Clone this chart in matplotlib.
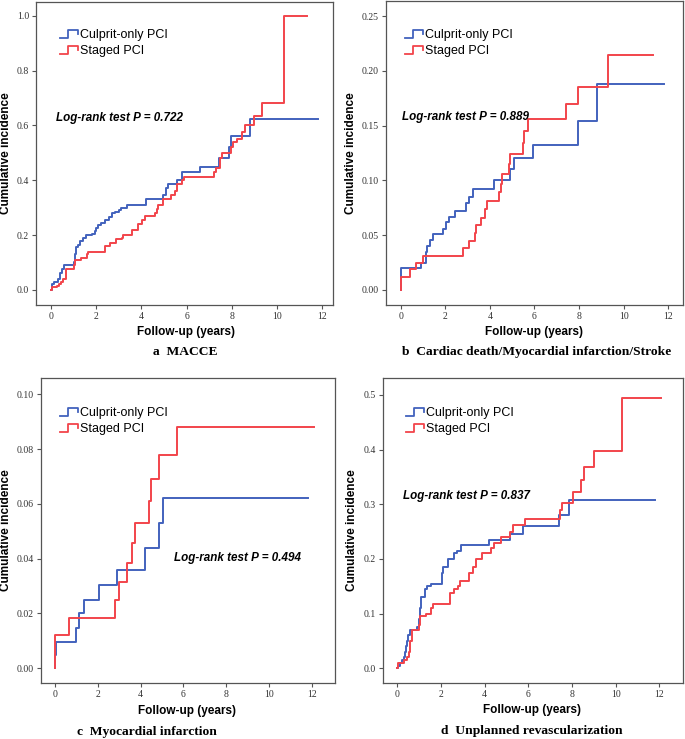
import numpy as np
import matplotlib.pyplot as plt
from matplotlib.lines import Line2D
from matplotlib.legend_handler import HandlerBase

# ---- data ----
# a  MACCE
a_cul_t = [0, 0.05, 0.15, 0.3, 0.4, 0.5, 0.6, 1.0, 1.05, 1.1, 1.2, 1.3, 1.4, 1.55, 1.8, 1.95, 2.0, 2.1, 2.2,
           2.4, 2.55, 2.7, 2.85, 3.0, 3.1, 3.35, 4.2, 4.95, 5.1, 5.2, 5.6, 5.8, 6.6, 7.45, 7.9, 7.95, 8.8, 11.8]
a_cul_y = [0, 0.02, 0.03, 0.04, 0.06, 0.075, 0.09, 0.10, 0.13, 0.155, 0.165, 0.18, 0.19, 0.20, 0.205, 0.215,
           0.225, 0.235, 0.245, 0.255, 0.265, 0.28, 0.285, 0.29, 0.30, 0.31, 0.33, 0.345, 0.37, 0.385, 0.40,
           0.43, 0.45, 0.48, 0.52, 0.56, 0.625, 0.625]
a_stg_t = [0, 0.05, 0.25, 0.35, 0.45, 0.55, 0.65, 1.0, 1.05, 1.35, 1.6, 1.65, 2.4, 2.6, 2.9, 3.15, 3.2, 3.6,
           3.85, 4.05, 4.15, 4.6, 4.7, 4.75, 4.95, 5.3, 5.5, 5.6, 5.8, 5.9, 7.2, 7.3, 7.5, 7.55, 7.95, 8.05,
           8.25, 8.45, 8.6, 9.0, 9.35, 10.3, 11.35]
a_stg_y = [0, 0.01, 0.015, 0.02, 0.03, 0.04, 0.075, 0.09, 0.11, 0.115, 0.13, 0.14, 0.16, 0.17, 0.185, 0.19,
           0.20, 0.22, 0.24, 0.255, 0.27, 0.28, 0.295, 0.31, 0.33, 0.345, 0.36, 0.385, 0.40, 0.41, 0.43,
           0.445, 0.48, 0.50, 0.52, 0.54, 0.55, 0.575, 0.60, 0.635, 0.68, 1.0, 1.0]

# b  Cardiac death/MI/Stroke
b_cul_t = [0, 0.02, 0.91, 1.14, 1.2, 1.32, 1.43, 1.9, 2.05, 2.15, 2.45, 2.95, 3.05, 3.25, 4.2, 4.9, 5.1,
           5.95, 7.95, 8.8, 11.8]
b_cul_y = [0, 0.02, 0.025, 0.035, 0.04, 0.046, 0.051, 0.056, 0.062, 0.067, 0.072, 0.079, 0.085, 0.092,
           0.10, 0.11, 0.12, 0.132, 0.154, 0.188, 0.188]
b_stg_t = [0, 0.03, 0.4, 0.7, 1.0, 2.8, 3.05, 3.35, 3.4, 3.6, 3.8, 3.85, 4.4, 4.5, 4.55, 4.85, 4.9, 5.5,
           5.55, 5.7, 7.4, 7.95, 9.3, 11.3]
b_stg_y = [0, 0.012, 0.019, 0.025, 0.031, 0.038, 0.045, 0.052, 0.059, 0.066, 0.074, 0.081, 0.089, 0.097,
           0.106, 0.115, 0.124, 0.134, 0.145, 0.156, 0.17, 0.185, 0.214, 0.214]

# c  Myocardial infarction
c_cul_t = [0, 0.02, 0.03, 1.0, 1.1, 1.35, 2.05, 2.9, 4.2, 4.85, 5.05, 11.8]
c_cul_y = [0, 0.005, 0.0097, 0.0146, 0.02, 0.025, 0.0305, 0.036, 0.044, 0.053, 0.062, 0.062]
c_stg_t = [0, 0.02, 0.65, 2.8, 3.0, 3.35, 3.6, 3.75, 4.4, 4.5, 4.85, 5.7, 12.1]
c_stg_y = [0, 0.0122, 0.0184, 0.025, 0.0315, 0.0385, 0.0457, 0.053, 0.061, 0.069, 0.078, 0.088, 0.088]

# d  Unplanned revascularization
d_cul_t = [0, 0.02, 0.1, 0.2, 0.3, 0.35, 0.4, 0.45, 0.5, 0.6, 0.9, 1.0, 1.05, 1.1, 1.25, 1.35, 1.55, 2.05,
           2.1, 2.3, 2.6, 2.75, 2.9, 4.2, 5.15, 5.75, 7.4, 7.85, 11.8]
d_cul_y = [0, 0.005, 0.01, 0.015, 0.02, 0.03, 0.04, 0.05, 0.06, 0.07, 0.075, 0.09, 0.11, 0.13, 0.145, 0.15,
           0.155, 0.175, 0.185, 0.20, 0.21, 0.215, 0.225, 0.235, 0.245, 0.26, 0.28, 0.308, 0.308]
d_stg_t = [0, 0.02, 0.3, 0.45, 0.55, 0.6, 0.65, 1.0, 1.05, 1.3, 1.55, 1.65, 2.4, 2.6, 2.8, 2.85, 3.3, 3.45,
           3.6, 3.9, 4.3, 4.45, 4.75, 5.15, 5.3, 5.85, 7.45, 7.55, 8.05, 8.4, 8.55, 9.0, 10.3, 12.1]
d_stg_y = [0, 0.01, 0.015, 0.02, 0.03, 0.05, 0.07, 0.08, 0.095, 0.10, 0.11, 0.118, 0.138, 0.145, 0.15, 0.16,
           0.175, 0.185, 0.20, 0.21, 0.22, 0.23, 0.24, 0.25, 0.262, 0.273, 0.29, 0.303, 0.322, 0.345, 0.368,
           0.398, 0.495, 0.495]

p_values = ['0.722', '0.889', '0.494', '0.837']
captions = [('a', 'MACCE'), ('b', 'Cardiac death/Myocardial infarction/Stroke'),
            ('c', 'Myocardial infarction'), ('d', 'Unplanned revascularization')]
groups = ['Culprit-only PCI', 'Staged PCI']

BLUE = '#4262bd'
RED = '#f2444b'
W, H = 685, 739


class StepHandler(HandlerBase):
    def create_artists(self, legend, orig, xd, yd, width, height, fontsize, trans):
        xs = np.array([0, 0.45, 0.45, 1.0, 1.0]) * width - xd
        ys = np.array([-0.05, -0.05, 0.95, 0.95, 0.4]) * height - yd
        ln = Line2D(xs, ys, color=orig.get_color(), lw=1.3)
        ln.set_transform(trans)
        return [ln]


def px_axes(l, r, t, b):
    return [l / W, 1 - b / H, (r - l) / W, (b - t) / H]


panels = [
    dict(box=(36, 333, 2, 305), xlim=(-0.66, 12.48), ylim=(-0.055, 1.05), yt=np.arange(0, 1.01, 0.2), fmt='%.1f',
         data=(a_cul_t, a_cul_y, a_stg_t, a_stg_y), leg=(60, 29), ptxt=(56, 118), cap=(185, 352), xl=(186, 332), yl=6),
    dict(box=(385.7, 683, 1, 305), xlim=(-0.67, 12.66), ylim=(-0.0137, 0.2637), yt=np.arange(0, 0.251, 0.05), fmt='%.2f',
         data=(b_cul_t, b_cul_y, b_stg_t, b_stg_y), leg=(405, 29), ptxt=(402, 117), cap=(537, 352), xl=(534, 332), yl=351),
    dict(box=(40.7, 335, 378, 683), xlim=(-0.67, 13.08), ylim=(-0.0054, 0.106), yt=np.arange(0, 0.101, 0.02), fmt='%.2f',
         data=(c_cul_t, c_cul_y, c_stg_t, c_stg_y), leg=(60, 407), ptxt=(174, 558), cap=(147, 732), xl=(187, 711), yl=6),
    dict(box=(382.7, 683, 378, 683), xlim=(-0.67, 13.09), ylim=(-0.027, 0.531), yt=np.arange(0, 0.51, 0.1), fmt='%.1f',
         data=(d_cul_t, d_cul_y, d_stg_t, d_stg_y), leg=(406, 407), ptxt=(403, 496), cap=(532, 731), xl=(532, 710), yl=352),
]

fig = plt.figure(figsize=(W / 100, H / 100), dpi=100)

for i, pn in enumerate(panels):
    ax = fig.add_axes(px_axes(*pn['box']))
    t1, y1, t2, y2 = pn['data']
    h1, = ax.step(t1, y1, where='post', color=BLUE, lw=1.4, label=groups[0])
    h2, = ax.step(t2, y2, where='post', color=RED, lw=1.4, label=groups[1])
    ax.set_xlim(*pn['xlim'])
    ax.set_ylim(*pn['ylim'])
    ax.set_xticks(range(0, 13, 2))
    ax.set_yticks(pn['yt'])
    ax.set_yticklabels([pn['fmt'] % v for v in pn['yt']])
    ax.tick_params(direction='out', length=3, width=0.8, color='#555555', labelsize=7,
                   labelcolor='#333333', pad=2)
    for lab in ax.get_xticklabels() + ax.get_yticklabels():
        lab.set_family('Liberation Serif')
    for s in ax.spines.values():
        s.set_color('#555555')
        s.set_linewidth(0.9)

    lx, ly = pn['leg']
    ax.legend(handles=[h1, h2], loc='upper left', bbox_to_anchor=(lx / W, 1 - ly / H),
              bbox_transform=fig.transFigure, frameon=False, handlelength=1.45,
              handleheight=0.6, handletextpad=0.15, labelspacing=0.3, borderpad=0, borderaxespad=0,
              prop={'family': 'Liberation Sans', 'size': 9},
              handler_map={h1: StepHandler(), h2: StepHandler()})

    px, py = pn['ptxt']
    fig.text(px / W, 1 - py / H, 'Log-rank test P = ' + p_values[i], fontsize=8.4, fontweight='bold',
             fontstyle='italic', family='Liberation Sans', ha='left', va='center')

    xx, xy = pn['xl']
    fig.text(xx / W, 1 - xy / H, 'Follow-up (years)', fontsize=8.5, fontweight='bold',
             family='Liberation Sans', ha='center', va='center')
    yx = pn['yl']
    cy = (pn['box'][2] + pn['box'][3]) / 2
    fig.text(yx / W, 1 - cy / H, 'Cumulative incidence', fontsize=8.5, fontweight='bold',
             family='Liberation Sans', ha='center', va='center', rotation=90)

    letter, name = captions[i]
    cx, cyy = pn['cap']
    fig.text(cx / W, 1 - cyy / H, letter + '  ' + name, fontsize=9.7, fontweight='bold',
             family='Liberation Serif', ha='center', va='center')

fig.savefig('out.png', dpi=100)
